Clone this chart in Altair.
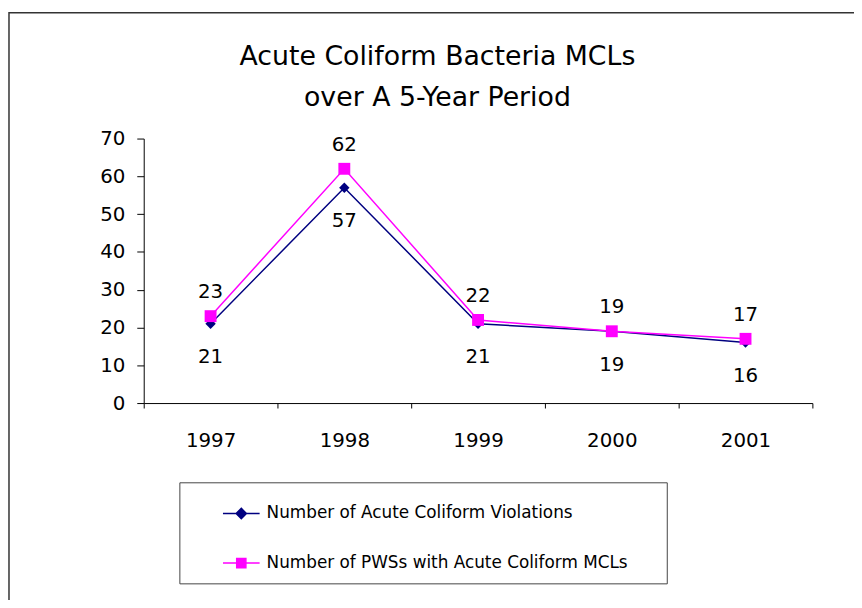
import altair as alt
import pandas as pd

years = ["1997", "1998", "1999", "2000", "2001"]
violations = [21, 57, 21, 19, 16]
pws_mcls = [23, 62, 22, 19, 17]
series_names = ["Number of Acute Coliform Violations",
                "Number of PWSs with Acute Coliform MCLs"]
series_colors = ["#000080", "#FF00FF"]
title_lines = ["Acute Coliform Bacteria MCLs", "over A 5-Year Period"]

FONT = "DejaVu Sans"
W, H = 675, 267

df = pd.DataFrame({
    "year": years * 2,
    "value": violations + pws_mcls,
    "series": [series_names[0]] * 5 + [series_names[1]] * 5,
})

xenc = alt.X("year:N", sort=years, title=None,
             scale=alt.Scale(type="band", paddingInner=0, paddingOuter=0),
             axis=alt.Axis(labelAngle=0, tickBand="extent", tickSize=5,
                           labelPadding=23, labelFontSize=20, labelFont=FONT,
                           labelColor="black", domainColor="black",
                           tickColor="black", grid=False))
yenc = alt.Y("value:Q", title=None,
             scale=alt.Scale(domain=[0, 70], nice=False, zero=True),
             axis=alt.Axis(values=[0, 10, 20, 30, 40, 50, 60, 70], tickSize=7,
                           labelPadding=12, labelFontSize=20, labelFont=FONT,
                           labelColor="black", domainColor="black",
                           tickColor="black", grid=False, labelOverlap=False))

base = alt.Chart(df).encode(x=xenc, y=yenc)

s1 = alt.datum.series == series_names[0]
s2 = alt.datum.series == series_names[1]

border = alt.Chart(pd.DataFrame({"a": [0]})).mark_rect(
    fillOpacity=0, stroke="#333333", strokeWidth=1.5
).encode(x=alt.value(-136), x2=alt.value(W + 120),
         y=alt.value(-127), y2=alt.value(H + 300))

line1 = base.transform_filter(s1).mark_line(color=series_colors[0], strokeWidth=1.5)
pts1 = base.transform_filter(s1).mark_point(shape="diamond", filled=True, size=110,
                                           opacity=1, color=series_colors[0])
line2 = base.transform_filter(s2).mark_line(color=series_colors[1], strokeWidth=1.5)
pts2 = base.transform_filter(s2).mark_point(shape="square", filled=True, size=144,
                                           opacity=1, color=series_colors[1])

lab1 = base.transform_filter(s1).mark_text(dy=34, fontSize=20, font=FONT,
                                          color="black").encode(text="value:Q")
lab2 = base.transform_filter(s2).mark_text(dy=-24, fontSize=20, font=FONT,
                                          color="black").encode(text="value:Q")

diamond_path = "M-1,0H1M0,-0.28L0.28,0L0,0.28L-0.28,0Z"
square_path = "M-1,0H1M-0.25,-0.25H0.25V0.25H-0.25Z"

leg = alt.Legend(title="\u00a0", titleOrient="right", titleFontSize=1, titlePadding=27,
                 orient="none", legendX=36, legendY=347,
                 strokeColor="#444444", padding=12, symbolOffset=31,
                 symbolSize=1369, symbolStrokeWidth=1.5, rowPadding=22,
                 labelFontSize=17, labelFont=FONT, labelColor="black",
                 labelLimit=600, labelOffset=6)

legend_layer = alt.Chart(df).transform_filter(alt.datum.value < 0).mark_point(
    opacity=1, strokeWidth=1.5
).encode(
    x=xenc,
    y=yenc,
    fill=alt.Fill("series:N", scale=alt.Scale(domain=series_names, range=series_colors), legend=leg),
    stroke=alt.Stroke("series:N", scale=alt.Scale(domain=series_names, range=series_colors), legend=leg),
    shape=alt.Shape("series:N", scale=alt.Scale(domain=series_names, range=[diamond_path, square_path]), legend=leg),
)

chart = alt.layer(border, line1, pts1, line2, pts2, lab1, lab2, legend_layer).properties(
    width=W, height=H,
    background="white",
    autosize=alt.AutoSizeParams(type="none"),
    padding={"left": 137, "top": 129, "right": 42, "bottom": 196},
    title=alt.TitleParams(text=title_lines, fontSize=27, font=FONT, fontWeight="normal",
                          lineHeight=42, anchor="middle", frame="group", dx=-41,
                          dy=125, offset=24, color="black"),
).configure_view(stroke="transparent", strokeWidth=0)

chart.save("out.html", embed_options={"renderer": "svg", "actions": False})
